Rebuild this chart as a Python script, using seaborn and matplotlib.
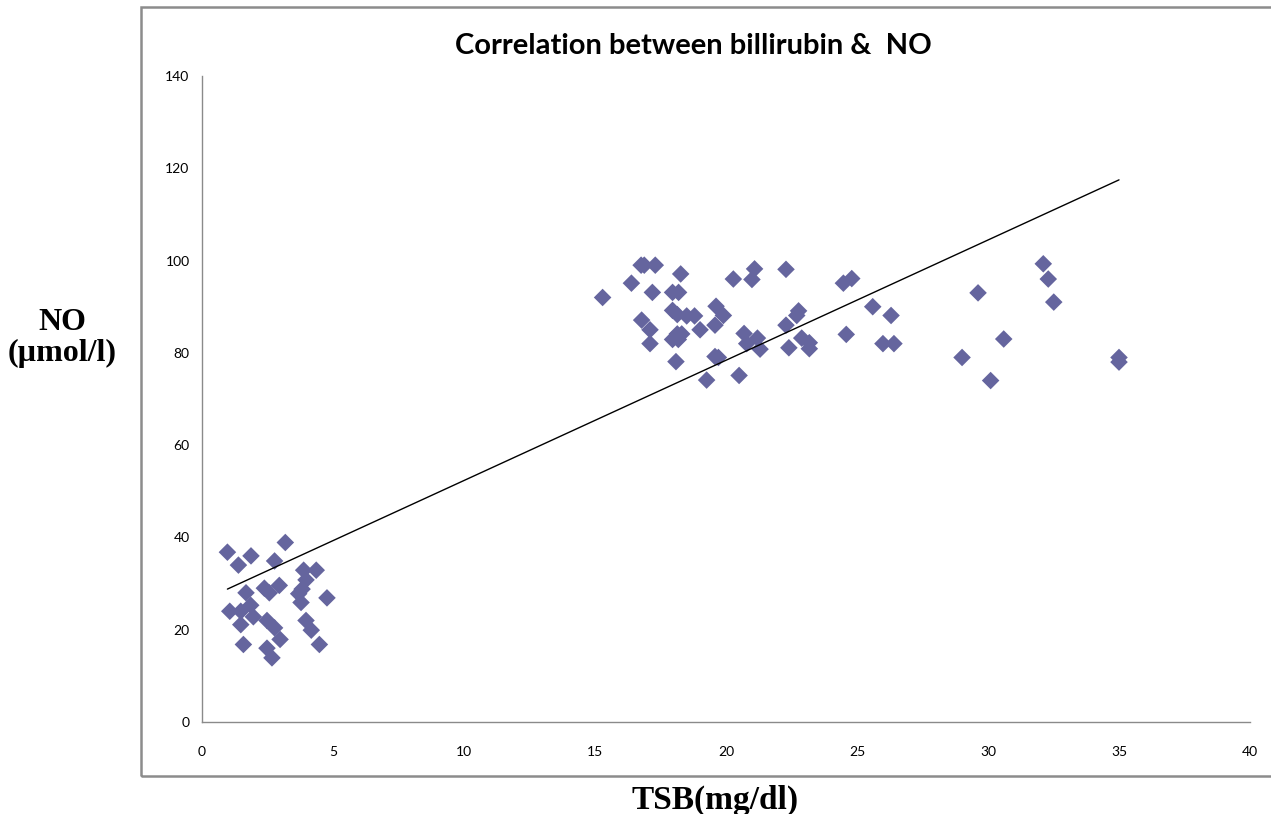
import numpy as np
import pandas as pd
import matplotlib
matplotlib.use("Agg")
import matplotlib.pyplot as plt
from matplotlib.patches import Rectangle
import seaborn as sns

# Total serum bilirubin (mg/dl) and nitric oxide (umol/l) per patient
tsb = [
    0.97, 1.39, 1.87, 3.18, 2.77, 3.88, 4.36, 3.97, 2.95, 2.38,
    2.57, 1.68, 3.82, 3.69, 3.78, 4.77, 1.86, 1.06, 1.48, 1.96,
    2.48, 3.97, 1.48, 2.77, 4.17, 2.98, 1.58, 4.48, 2.48, 2.67,
    16.76, 16.88, 17.30, 18.27, 16.39, 15.29, 17.19, 17.96, 18.19, 20.28,
    21.09, 20.99, 19.62, 19.90, 17.96, 18.14, 18.50, 18.80, 16.78, 17.10,
    19.01, 19.58, 17.96, 18.14, 18.31, 18.18, 17.10, 18.09, 19.58, 19.71,
    19.26, 20.50, 20.69, 20.79, 21.20, 21.30,
    22.29, 24.48, 24.80, 25.60, 26.30, 22.77, 22.70, 22.29, 22.89, 23.18,
    23.18, 22.40, 24.59, 25.99, 26.41,
    32.11, 32.30, 32.51, 29.62, 30.60, 29.01, 30.10, 35.00, 35.00,
]
no_level = [
    36.8, 34.0, 36.0, 38.9, 34.9, 32.9, 32.9, 30.8, 29.6, 29.0,
    28.0, 28.0, 28.8, 27.8, 25.9, 26.9, 25.3, 24.0, 24.0, 22.8,
    22.0, 22.0, 21.1, 20.4, 19.9, 17.9, 16.8, 16.8, 16.0, 13.9,
    99.0, 99.0, 99.0, 97.1, 95.1, 92.0, 93.1, 93.1, 93.1, 96.0,
    98.2, 95.9, 90.1, 88.1, 89.2, 88.3, 88.0, 88.0, 87.1, 85.0,
    85.0, 86.0, 82.9, 84.1, 84.1, 82.9, 82.0, 78.1, 79.2, 79.0,
    74.1, 75.1, 84.2, 82.0, 83.2, 80.8,
    98.1, 95.1, 96.1, 90.0, 88.1, 89.1, 88.1, 86.0, 83.2, 82.2,
    80.9, 81.1, 84.0, 82.0, 82.0,
    99.3, 96.0, 91.0, 93.0, 83.0, 79.0, 74.0, 79.0, 78.0,
]
x_ticks = [0, 5, 10, 15, 20, 25, 30, 35, 40]
y_ticks = [0, 20, 40, 60, 80, 100, 120, 140]

df = pd.DataFrame({"TSB": tsb, "NO": no_level})

sns.set_style("white")
plt.rcParams["font.family"] = ["Lato", "DejaVu Sans"]

W, H = 1271, 814
fig = plt.figure(figsize=(W / 100, H / 100), dpi=100)
ax = fig.add_axes([202 / W, 1 - 722 / H, (1250 - 202) / W, (722 - 76) / H])

sns.regplot(
    data=df, x="TSB", y="NO", ax=ax, ci=None, marker="D",
    scatter_kws={"s": 80, "color": "#65659E", "edgecolor": "none", "alpha": 1},
    line_kws={"color": "black", "linewidth": 1.0},
)

ax.set_xlim(0, 40)
ax.set_ylim(0, 140)
ax.set_xticks(x_ticks)
ax.set_yticks(y_ticks)
ax.set_xlabel("")
ax.set_ylabel("")
for side in ("top", "right"):
    ax.spines[side].set_visible(False)
for side in ("left", "bottom"):
    ax.spines[side].set_color("#8a8a8a")
    ax.spines[side].set_linewidth(1.0)
ax.tick_params(axis="both", direction="out", length=5, width=1,
               color="#8a8a8a", labelsize=10, labelcolor="black", pad=12)
ax.tick_params(axis="y", pad=4)

# Chart-area border
fig.patches.append(Rectangle((141 / W, 1 - 776 / H), 1.2, (776 - 7) / H,
                             transform=fig.transFigure, fill=False,
                             edgecolor="#8c8c8c", linewidth=1.8, clip_on=False))

fig.text(693 / W, 1 - 46 / H, "Correlation between billirubin &  NO",
         ha="center", va="center", fontsize=21, fontweight="bold",
         color="black", family=["Lato", "DejaVu Sans"])
fig.text(62 / W, 1 - 338 / H, "NO\n(µmol/l)", ha="center", va="center",
         fontsize=23, fontweight="bold", color="black",
         family=["Liberation Serif", "DejaVu Serif"], linespacing=1.05)
fig.text(715 / W, 1 - 800 / H, "TSB(mg/dl)", ha="center", va="center",
         fontsize=24, fontweight="bold", color="black",
         family=["Liberation Serif", "DejaVu Serif"])

fig.savefig("out.png", dpi=100)
